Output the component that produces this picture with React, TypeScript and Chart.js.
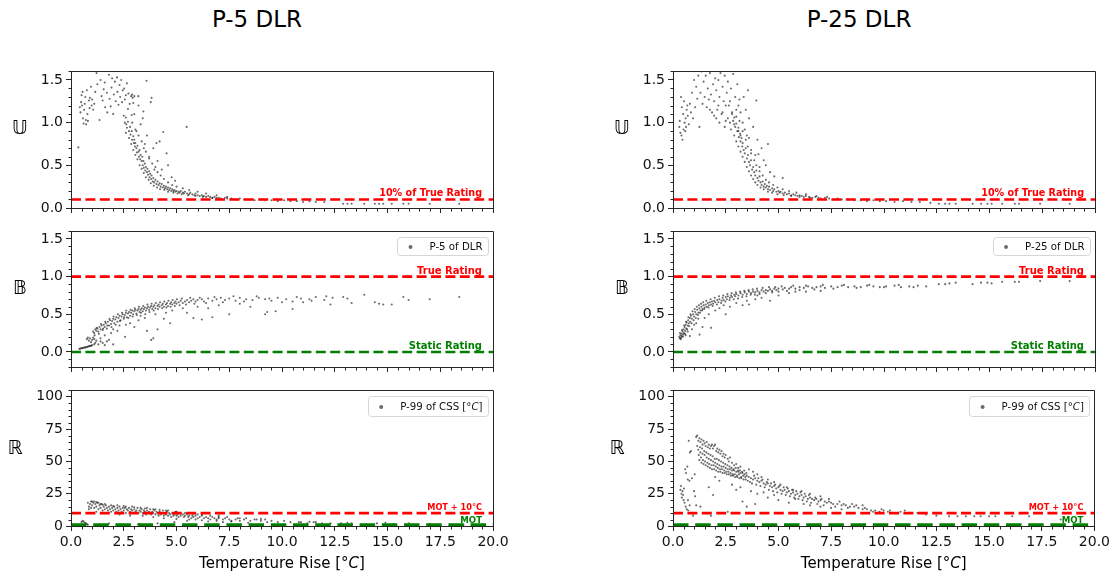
import React, { useEffect, useRef } from 'react';
import { Chart, registerables } from 'chart.js';

Chart.register(...registerables);

type Pt = [number, number];

const FONT = '"DejaVu Sans", Verdana, sans-serif';
const AXIS = '#262626';
const TICK = '#111111';
const POINT = 'rgba(0,0,0,0.58)';
const RED = '#ff0000';
const GREEN = '#008000';

const X_MIN = 0;
const X_MAX = 20;
const X_STEP = 2.5;
const X_MINOR = 0.5;
const X_TITLE = 'Temperature Rise [°C]';

const COL_TITLES = ['P-5 DLR', 'P-25 DLR'];
const ROW_LABELS = ['𝕌', '𝔹', 'ℝ'];
const LEGENDS = [['P-5 of DLR', 'P-99 of CSS [°C]'], ['P-25 of DLR', 'P-99 of CSS [°C]']];

const TEN_PCT = 0.1;
const TRUE_RATING = 1.0;
const STATIC_RATING = 0.0;
const MOT_PLUS_10 = 10;
const MOT = 0;

// ---------- P-5 DLR, U ----------
const p5U: Pt[] = [
  [0.35,0.71],[0.42,1.18],[0.45,1.12],[0.48,1.24],[0.5,1.32],[0.52,1.2],[0.55,1.36],[0.57,1.05],[0.6,0.99],[0.62,1.15],
  [0.65,1.22],[0.68,1.3],[0.7,1.03],[0.72,0.98],[0.75,1.38],[0.78,1.1],[0.8,1.02],[0.85,1.26],[0.88,1.17],[0.9,1.29],
  [0.95,1.42],[0.98,1.2],[1.0,1.27],[1.05,1.15],[1.1,1.22],[1.15,1.36],
  [1.21,1.58],[1.25,1.45],[1.35,1.03],[1.4,1.5],[1.45,1.31],[1.5,1.26],[1.55,1.39],[1.6,1.47],[1.62,1.18],[1.7,1.35],
  [1.72,1.12],[1.8,1.56],[1.83,1.28],[1.88,1.19],[1.92,1.41],[1.95,1.52],[2.0,1.1],[2.03,1.33],[2.08,1.48],[2.12,1.25],
  [2.18,1.53],[2.2,1.36],[2.25,1.21],[2.3,1.44],[2.33,1.3],[2.38,1.5],[2.42,1.24],[2.45,1.38],[2.52,1.4],[2.55,1.27],
  [2.6,1.32],[2.62,0.98],[2.65,1.46],[2.7,1.16],[2.72,1.34],[2.78,1.22],[2.85,1.31],[2.88,1.09],[2.92,1.29],[2.95,1.23],
  [3.0,1.31],[2.9,1.33],[3.19,1.31],[3.82,1.29],[3.78,1.24],[3.43,1.13],[3.58,1.49],[3.0,1.1],[3.4,1.05],[3.2,1.2],
  [2.5,1.08],[2.55,1.0],[2.6,1.06],[2.65,0.94],[2.7,1.01],[2.75,0.9],[2.8,0.95],[2.82,0.86],[2.88,0.9],[2.9,0.8],
  [2.95,0.84],[2.98,0.76],[3.0,0.8],[3.03,0.72],[3.05,0.76],[3.1,0.7],[3.12,0.65],[3.15,0.73],[3.2,0.66],[3.22,0.6],
  [3.25,0.68],[3.28,0.57],[3.3,0.62],[3.35,0.55],[3.38,0.6],[3.4,0.5],[3.43,0.55],[3.45,0.47],[3.5,0.52],[3.52,0.44],
  [3.55,0.48],[3.6,0.42],[3.62,0.46],[3.65,0.39],[3.7,0.43],[3.72,0.36],[3.75,0.4],[3.8,0.34],[3.82,0.38],[3.88,0.31],
  [3.9,0.35],[3.95,0.3],[4.0,0.33],[4.05,0.28],[4.1,0.31],[4.15,0.27],[4.2,0.29],[4.25,0.25],[4.3,0.28],[4.35,0.24],
  [4.4,0.26],[4.45,0.23],[4.5,0.25],[4.55,0.22],[4.6,0.24],[4.65,0.21],[4.7,0.23],[4.75,0.2],[4.8,0.22],[4.85,0.2],
  [4.9,0.21],[4.95,0.19],[5.0,0.2],[5.1,0.19],[5.15,0.18],[5.2,0.2],[5.3,0.18],[5.35,0.17],[5.4,0.19],[5.5,0.17],
  [5.6,0.16],[5.65,0.18],[5.75,0.16],[5.85,0.15],[5.9,0.17],[6.0,0.15],[6.1,0.14],[6.2,0.15],[6.3,0.14],[6.4,0.13],
  [6.5,0.14],[6.6,0.13],[6.7,0.12],[6.8,0.13],[6.9,0.12],[7.0,0.12],[7.1,0.11],[7.3,0.12],[7.4,0.11],[7.6,0.11],
  [7.8,0.1],[8.0,0.11],[8.2,0.1],[8.5,0.1],[8.7,0.09],[9.0,0.1],[9.2,0.09],[9.5,0.09],[9.8,0.08],[10.1,0.09],
  [10.4,0.08],[10.7,0.08],[11.0,0.07],[11.3,0.08],[11.6,0.07],[12.0,0.07],
  [12.9,0.05],[13.1,0.05],[13.3,0.05],[13.9,0.05],[14.4,0.05],[14.6,0.05],[14.8,0.05],[15.2,0.05],[15.75,0.05],[16.0,0.05],
  [17.0,0.05],[18.4,0.05],
  [5.48,0.95],[4.37,0.89],[4.2,0.78],[4.05,0.76],[4.53,0.64],[4.6,0.5],[4.77,0.36],[4.93,0.32],[3.3,0.98],[3.6,0.85],
  [3.9,0.7],[4.1,0.55],[4.3,0.45],[3.5,0.75],[3.7,0.6],[4.0,0.48],[3.1,0.9],
];
const p5U_spread: Pt[] = [
  [2.6,0.88],[2.75,0.82],[2.85,0.75],[2.95,0.68],[3.05,0.62],[3.15,0.57],[3.25,0.5],[3.35,0.46],[3.45,0.41],[3.55,0.36],
  [3.68,0.33],[3.78,0.29],[3.92,0.26],[4.08,0.24],[4.22,0.22],[4.42,0.21],[4.6,0.19],[4.85,0.18],[5.05,0.17],[5.25,0.16],
  [5.55,0.15],[5.9,0.14],[6.25,0.13],[6.7,0.115],
  [2.9,1.0],[3.05,0.92],[3.2,0.85],[3.35,0.78],[3.45,0.7],[3.55,0.66],[3.7,0.58],[3.85,0.52],[3.95,0.45],[4.1,0.42],
  [4.25,0.38],[4.4,0.34],[4.6,0.3],[4.8,0.27],[5.0,0.25],[5.3,0.23],[5.6,0.21],[6.0,0.19],[6.4,0.17],[6.9,0.15],[7.4,0.13],
];

// ---------- P-5 DLR, B ----------
const p5B: Pt[] = [
  [0.4,0.04],[0.45,0.045],[0.5,0.05],[0.55,0.05],[0.6,0.055],[0.65,0.06],[0.7,0.06],[0.75,0.065],[0.8,0.07],[0.85,0.075],
  [0.9,0.08],[0.95,0.08],[1.0,0.09],
  [0.75,0.17],[0.8,0.19],[0.85,0.15],[0.9,0.18],[0.95,0.13],[1.0,0.16],[1.05,0.19],[1.1,0.17],[1.15,0.12],[1.2,0.15],
  [1.3,0.1],[1.4,0.14],[1.5,0.12],[1.6,0.09],[1.8,0.16],[2.0,0.1],[1.1,0.1],
  [1.05,0.27],[1.1,0.25],[1.15,0.3],[1.2,0.28],[1.25,0.31],[1.3,0.27],[1.35,0.33],[1.4,0.3],[1.45,0.35],[1.5,0.29],
  [1.55,0.36],[1.6,0.33],[1.65,0.38],[1.7,0.31],[1.75,0.4],[1.8,0.35],[1.85,0.42],[1.9,0.37],[1.95,0.41],[2.0,0.44],
  [2.05,0.38],[2.1,0.43],[2.15,0.46],[2.2,0.4],[2.25,0.45],[2.3,0.48],[2.35,0.42],[2.4,0.47],[2.45,0.5],[2.5,0.44],
  [2.55,0.49],[2.6,0.52],[2.65,0.46],[2.7,0.51],[2.75,0.53],[2.8,0.48],[2.85,0.52],[2.9,0.55],[2.95,0.5],[3.0,0.54],
  [3.05,0.56],[3.1,0.51],[3.15,0.55],[3.2,0.57],[3.25,0.53],[3.3,0.56],[3.35,0.58],[3.4,0.54],[3.45,0.57],[3.5,0.59],
  [3.55,0.55],[3.6,0.58],[3.65,0.6],[3.7,0.56],[3.75,0.59],[3.8,0.61],[3.85,0.57],[3.9,0.6],[3.95,0.62],[4.0,0.58],
  [4.1,0.61],[4.15,0.63],[4.2,0.6],[4.3,0.62],[4.35,0.64],[4.4,0.6],[4.5,0.63],[4.55,0.65],[4.6,0.61],[4.7,0.64],
  [4.75,0.66],[4.8,0.63],[4.9,0.65],[4.95,0.67],[5.0,0.64],[5.1,0.66],[5.2,0.68],[5.3,0.65],[5.4,0.67],[5.5,0.69],
  [5.6,0.66],[5.7,0.68],[5.8,0.7],[5.9,0.67],[6.0,0.69],[6.2,0.7],[6.3,0.67],[6.5,0.71],[6.7,0.68],[6.9,0.7],
  [7.1,0.72],[7.3,0.69],[7.5,0.71],[7.8,0.68],[8.0,0.72],[8.3,0.7],[8.6,0.69],[8.9,0.72],[9.2,0.7],[9.5,0.68],
  [9.8,0.72],[10.2,0.7],[10.5,0.67],[10.9,0.71],[11.3,0.7],[11.6,0.73],[12.0,0.69],[12.4,0.72],
  [12.9,0.73],[13.1,0.71],[13.3,0.65],[13.9,0.76],[14.4,0.66],[14.6,0.64],[14.8,0.63],[15.2,0.63],[15.75,0.73],[16.0,0.69],
  [17.0,0.7],[18.4,0.73],
  [2.56,0.2],[3.9,0.18],[3.8,0.16],[3.6,0.28],[4.1,0.3],[4.7,0.38],[4.4,0.44],[5.8,0.45],[6.2,0.43],[6.7,0.46],
  [7.5,0.5],[9.2,0.5],[9.3,0.53],[9.7,0.54],[10.5,0.57],[2.0,0.3],[2.3,0.35],[2.8,0.38],[3.2,0.42],[3.5,0.45],
  [3.0,0.33],[4.0,0.5],[4.8,0.55],[5.3,0.58],[6.0,0.6],[7.0,0.62],[8.0,0.64],[1.6,0.22],[1.9,0.25],[1.4,0.18],
  [1.7,0.14],[2.2,0.28],[2.6,0.36],[5.5,0.52],[6.5,0.58],[8.5,0.6],[11.0,0.66],[12.3,0.63],[3.3,0.48],[4.5,0.52],
];
const p5B_spread: Pt[] = [
  [1.12,0.22],[1.22,0.32],[1.32,0.24],[1.42,0.37],[1.52,0.31],[1.62,0.4],[1.72,0.35],[1.82,0.44],[1.92,0.33],[2.02,0.47],
  [2.12,0.36],[2.22,0.5],[2.32,0.41],[2.42,0.52],[2.52,0.46],[2.62,0.55],[2.72,0.45],[2.82,0.56],[2.92,0.47],[3.02,0.58],
  [3.12,0.49],[3.22,0.6],[3.32,0.52],[3.42,0.61],[3.52,0.5],[3.62,0.63],[3.72,0.53],[3.82,0.64],[3.92,0.55],[4.02,0.65],
  [4.12,0.57],[4.22,0.66],[4.32,0.58],[4.42,0.67],[4.52,0.59],[4.62,0.68],[4.72,0.6],[4.82,0.69],[4.92,0.61],[5.02,0.7],
  [5.15,0.62],[5.25,0.71],[5.45,0.63],[5.65,0.72],[5.85,0.64],[6.1,0.72],[6.4,0.65],[6.8,0.73],[7.2,0.66],[7.7,0.74],
  [8.2,0.67],[8.8,0.74],[9.4,0.71],[10.0,0.66],[10.7,0.73],[11.4,0.68],[12.1,0.74],
];

// ---------- P-5 DLR, R ----------
const p5R: Pt[] = [
  [0.5,3],[0.55,4],[0.6,3.5],[0.65,2.5],[0.7,2],[0.75,1.5],[0.8,1],
  [0.8,18],[0.85,15],[0.9,17],[0.95,19],[1.0,16],[1.05,18],[1.1,14],[1.15,17],[1.2,15],[1.25,18],
  [1.3,13],[1.35,16],[1.4,14],[1.45,17],[1.5,12],[1.55,15],[1.6,13],[1.65,16],[1.7,14],[1.75,12],
  [1.8,15],[1.85,13],[1.9,11],[1.95,14],[2.0,12],[2.05,15],[2.1,13],[2.15,11],[2.2,14],[2.25,12],
  [2.3,15],[2.35,13],[2.4,11],[2.45,14],[2.5,12],[2.55,14],[2.6,10],[2.65,13],[2.7,12],[2.75,14],
  [2.8,11],[2.85,13],[2.9,12],[2.95,10],[3.0,13],[3.05,11],[3.1,12],[3.15,14],[3.2,10],[3.25,12],
  [3.3,11],[3.35,13],[3.4,10],[3.45,12],[3.5,11],[3.55,9],[3.6,12],[3.65,10],[3.7,11],[3.75,13],
  [3.8,9],[3.85,11],[3.9,10],[3.95,12],[4.0,9],[4.05,11],[4.1,10],[4.15,8],[4.2,11],[4.25,9],
  [4.3,10],[4.35,12],[4.4,8],[4.45,10],[4.5,9],[4.55,11],[4.6,8],[4.65,10],[4.7,9],[4.75,7],
  [4.8,10],[4.85,8],[4.9,9],[4.95,11],[5.0,8],[5.05,9],[5.1,7],[5.15,10],[5.2,8],[5.3,9],
  [5.35,7],[5.4,8],[5.5,9],[5.55,7],[5.6,8],[5.7,6],[5.75,8],[5.8,7],[5.9,8],[6.0,6],
  [6.1,7],[6.2,8],[6.3,6],[6.4,7],[6.5,6],[6.6,5],[6.7,7],[6.8,6],[6.9,5],[7.0,6],
  [7.2,5],[7.3,6],[7.5,5],[7.6,4],[7.8,5],[8.0,4],[8.2,5],[8.5,4],[8.7,5],[9.0,4],
  [9.3,3],[9.5,4],[9.8,3],[10.1,4],[10.4,3],[10.8,3],[11.2,2],[11.5,3],[11.9,2],[12.3,2],
  [12.8,2],[13.1,2.5],[13.3,2],[14.0,1.5],[14.5,2],[14.9,2.5],[15.3,1.5],[16.0,2],[17.0,1.5],[18.6,1],
  [10.9,3],[11.3,3.2],[11.6,3],
  [1.0,19],[1.2,18.5],[1.4,17],[1.5,16.5],[2.0,15.5],[2.5,15.5],[3.0,14.5],[3.5,13.5],[4.0,13],[4.5,12],
  [5.0,11],[5.5,10],[6.0,9],[7.0,8],[8.0,6],[9.0,5.5],
  [2.4,1],[3.2,1.5],[4.1,2],[4.9,3],[5.5,4],[5.9,5],[1.8,2],[6.5,3.5],[7.2,3],[8.4,2.5],
];
const p5R_spread: Pt[] = [
  [0.85,13],[0.95,14],[1.1,19],[1.3,18],[1.6,17],[1.9,16],[2.2,16],[2.6,15],[2.9,15],[3.3,14],
  [3.6,14],[3.9,13],[4.2,12.5],[4.6,12],[5.0,10.5],[5.4,10],[5.8,9.5],[6.2,9],[6.6,8],[7.0,7],
  [7.4,7],[7.9,6],[8.3,6],[8.8,5],[9.2,5],[1.2,11],[1.7,10],[2.3,9],[2.8,8],[3.4,8],
  [3.9,7],[4.4,6],[5.0,5.5],[5.6,5],[6.2,4.5],[6.9,4],[7.6,3.5],
];

// ---------- P-25 DLR, U ----------
const p25U: Pt[] = [
  [0.3,0.95],[0.32,1.02],[0.35,0.88],[0.38,1.3],[0.4,0.85],[0.42,1.18],[0.45,0.8],[0.48,1.1],[0.5,0.92],[0.52,1.25],
  [0.55,1.0],[0.58,0.9],[0.6,1.05],[0.62,0.95],[0.65,1.15],[0.68,1.2],[0.7,1.08],[0.75,0.98],[0.8,1.22],[0.85,1.12],
  [0.9,1.35],[0.95,1.05],[1.0,1.5],[1.05,1.18],
  [1.1,1.42],[1.15,1.28],[1.2,1.55],[1.25,0.95],[1.3,1.35],[1.35,1.6],[1.4,1.22],[1.45,1.48],[1.5,1.3],[1.55,1.55],
  [1.6,1.18],[1.65,1.4],[1.7,1.27],[1.75,1.58],[1.8,1.33],[1.85,1.12],[1.9,1.45],[1.95,1.25],[2.0,1.52],[2.05,1.38],
  [2.1,1.15],[2.15,1.5],[2.2,1.3],[2.25,1.58],[2.3,1.1],[2.35,1.42],[2.4,1.25],[2.45,1.55],[2.5,1.02],[2.55,1.35],
  [2.6,1.48],[2.65,1.2],[2.7,1.0],[2.75,1.4],[2.8,1.12],[2.85,1.57],[2.9,0.98],[2.95,1.3],[3.0,1.07],[3.05,1.45],
  [3.1,0.9],[3.15,1.27],[3.2,0.85],
  [2.8,1.1],[2.85,1.02],[2.9,1.06],[2.95,0.95],[3.0,0.99],[3.05,0.9],[3.1,0.94],[3.12,0.83],[3.18,0.87],[3.2,0.78],
  [3.25,0.82],[3.28,0.72],[3.3,0.76],[3.35,0.68],[3.4,0.64],[3.45,0.7],[3.5,0.58],[3.55,0.62],[3.6,0.54],[3.65,0.5],
  [3.7,0.56],[3.75,0.45],[3.8,0.48],[3.85,0.42],[3.9,0.38],[3.95,0.44],[4.0,0.35],[4.05,0.32],[4.1,0.37],[4.15,0.3],
  [4.2,0.27],[4.25,0.31],[4.3,0.25],[4.35,0.28],[4.4,0.24],[4.45,0.26],[4.5,0.22],[4.55,0.25],[4.6,0.21],[4.7,0.23],
  [4.75,0.2],[4.8,0.22],[4.9,0.19],[5.0,0.2],[5.05,0.18],[5.1,0.19],[5.2,0.17],[5.3,0.18],[5.4,0.16],[5.5,0.17],
  [5.6,0.15],[5.7,0.16],[5.8,0.15],[5.9,0.14],[6.0,0.15],[6.1,0.14],[6.2,0.13],[6.3,0.14],[6.45,0.13],[6.6,0.12],
  [6.75,0.13],[6.9,0.12],[7.0,0.11],[7.2,0.12],[7.4,0.11],[7.6,0.1],[7.8,0.11],[8.0,0.1],[8.3,0.1],[8.6,0.09],
  [8.9,0.09],[9.2,0.08],[9.5,0.09],[9.8,0.08],[10.1,0.08],[10.5,0.07],[10.9,0.08],[11.3,0.07],[11.7,0.07],[12.2,0.06],
  [12.6,0.05],[12.9,0.05],[13.1,0.05],[13.4,0.05],[14.2,0.05],[14.6,0.05],[14.9,0.05],[15.1,0.05],[15.6,0.05],[16.2,0.05],
  [16.4,0.05],[17.4,0.05],[18.8,0.05],
  [3.95,1.26],[4.5,0.75],[3.6,0.82],[3.7,0.68],[4.05,0.63],[4.3,0.56],[5.2,0.35],[4.8,0.37],[3.3,1.0],[3.4,0.92],
  [3.5,0.85],[3.45,1.15],[3.6,1.05],[3.8,0.95],[4.0,0.8],[4.2,0.7],[3.9,0.62],[4.4,0.5],[4.6,0.42],[4.1,0.48],
  [3.2,1.12],[3.1,1.2],[3.35,1.3],[3.55,1.38],
];
const p25U_spread: Pt[] = [
  [2.75,0.92],[2.9,0.85],[3.0,0.78],[3.1,0.72],[3.2,0.66],[3.3,0.6],[3.4,0.54],[3.5,0.48],[3.6,0.43],[3.7,0.38],
  [3.8,0.34],[3.9,0.3],[4.0,0.27],[4.15,0.24],[4.3,0.22],[4.5,0.19],[4.7,0.18],[4.95,0.16],[5.25,0.15],[5.6,0.14],
  [6.0,0.13],[6.5,0.12],
  [3.0,1.15],[3.15,1.02],[3.3,0.9],[3.45,0.8],[3.55,0.72],[3.7,0.64],[3.85,0.56],[3.95,0.5],[4.1,0.43],[4.25,0.38],
  [4.4,0.33],[4.55,0.3],[4.75,0.27],[4.95,0.24],[5.2,0.22],[5.5,0.2],[5.85,0.18],[6.3,0.16],[6.8,0.14],[7.3,0.13],
  [2.05,1.05],[2.2,1.0],[2.35,1.12],[2.5,1.2],[2.6,1.05],[2.7,1.25],[2.45,0.95],[2.15,1.2],[1.95,1.08],[1.75,1.15],
];

// ---------- P-25 DLR, B ----------
const p25B: Pt[] = [
  [0.3,0.2],[0.32,0.18],[0.35,0.22],[0.38,0.19],[0.4,0.24],[0.42,0.21],[0.45,0.27],[0.48,0.23],[0.5,0.3],[0.52,0.25],
  [0.55,0.33],[0.58,0.28],[0.6,0.36],[0.63,0.31],[0.65,0.39],[0.7,0.35],[0.72,0.42],[0.75,0.38],[0.8,0.45],[0.82,0.4],
  [0.85,0.48],[0.9,0.44],[0.95,0.5],[1.0,0.47],[1.05,0.53],[1.1,0.5],[1.15,0.56],[1.2,0.52],[1.25,0.58],[1.3,0.55],
  [1.35,0.6],[1.4,0.57],[1.45,0.62],[1.5,0.59],[1.55,0.63],[1.6,0.6],[1.65,0.65],[1.7,0.62],[1.75,0.66],[1.8,0.63],
  [1.85,0.67],[1.9,0.64],[1.95,0.68],[2.0,0.66],[2.1,0.69],[2.15,0.66],[2.2,0.7],[2.3,0.68],[2.35,0.72],[2.4,0.69],
  [2.5,0.73],[2.55,0.7],[2.6,0.74],[2.7,0.72],[2.75,0.75],[2.8,0.73],[2.9,0.76],[2.95,0.74],[3.0,0.77],[3.1,0.75],
  [3.2,0.78],[3.3,0.76],[3.4,0.79],[3.5,0.77],[3.6,0.8],[3.7,0.78],[3.8,0.8],[3.9,0.79],[4.0,0.81],[4.1,0.79],
  [4.2,0.82],[4.3,0.8],[4.4,0.82],[4.5,0.81],[4.6,0.83],[4.7,0.81],[4.8,0.84],[4.9,0.82],[5.0,0.84],[5.2,0.83],
  [5.3,0.85],[5.5,0.84],[5.6,0.86],[5.8,0.84],[6.0,0.86],[6.2,0.85],[6.4,0.87],[6.6,0.85],[6.8,0.86],[7.0,0.87],
  [7.2,0.85],[7.5,0.87],[7.8,0.86],[8.0,0.88],[8.3,0.86],[8.6,0.87],[8.9,0.86],[9.2,0.88],[9.5,0.87],[9.8,0.86],
  [10.1,0.87],[10.5,0.88],[10.8,0.86],[11.2,0.87],[11.6,0.88],[12.0,0.87],
  [12.6,0.9],[12.9,0.9],[13.1,0.91],[13.4,0.92],[14.2,0.9],[14.6,0.92],[14.9,0.92],[15.1,0.91],[15.6,0.93],[16.2,0.93],
  [16.4,0.93],[17.4,0.94],[18.8,0.94],
  [0.8,0.21],[1.26,0.23],[1.4,0.33],[1.8,0.32],[2.5,0.5],[3.3,0.62],[3.6,0.63],[4.6,0.68],[0.6,0.22],[0.9,0.3],
  [1.1,0.38],[1.5,0.45],[1.7,0.5],[2.0,0.55],[2.2,0.58],[2.7,0.6],[3.0,0.65],[3.9,0.7],[4.2,0.72],[5.0,0.75],
  [5.5,0.78],[6.3,0.8],[7.0,0.81],[1.2,0.44],[2.4,0.62],[3.5,0.68],[4.0,0.75],[5.8,0.8],[1.0,0.36],[0.7,0.27],
];
const p25B_spread: Pt[] = [
  [0.33,0.25],[0.37,0.17],[0.43,0.29],[0.47,0.2],[0.53,0.35],[0.57,0.24],[0.62,0.4],[0.67,0.3],[0.73,0.46],[0.77,0.34],
  [0.83,0.5],[0.88,0.38],[0.93,0.54],[0.98,0.42],[1.03,0.57],[1.08,0.45],[1.13,0.6],[1.18,0.49],[1.23,0.62],[1.28,0.52],
  [1.33,0.64],[1.38,0.55],[1.43,0.66],[1.48,0.57],[1.58,0.68],[1.68,0.59],[1.78,0.7],[1.88,0.61],[1.98,0.72],[2.08,0.63],
  [2.18,0.74],[2.28,0.65],[2.38,0.75],[2.48,0.67],[2.58,0.77],[2.68,0.69],[2.78,0.78],[2.88,0.7],[2.98,0.79],[3.08,0.71],
  [3.18,0.8],[3.28,0.73],[3.38,0.81],[3.48,0.74],[3.58,0.82],[3.68,0.76],[3.78,0.83],[3.88,0.76],[3.98,0.84],[4.1,0.77],
  [4.25,0.85],[4.4,0.78],[4.55,0.86],[4.7,0.79],[4.85,0.86],[5.0,0.8],[5.15,0.87],[5.4,0.81],[5.7,0.88],[6.0,0.82],
  [6.3,0.88],[6.7,0.83],[7.1,0.89],[7.6,0.84],[8.1,0.89],[8.7,0.85],[9.3,0.89],[10.0,0.86],[10.7,0.89],[11.4,0.86],
];

// ---------- P-25 DLR, R ----------
const p25R: Pt[] = [
  [0.35,28],[0.38,31],[0.4,25],[0.42,22],[0.45,27],[0.48,24],[0.5,20],[0.52,29],[0.55,18],[0.58,44],
  [0.6,15],[0.62,41],[0.65,13],[0.68,46],[0.7,36],[0.72,12],[0.75,66],[0.78,35],[0.8,57],[0.82,10],
  [0.85,58],[0.9,37],[0.95,8],[1.0,27],[1.05,23],[1.1,16],[1.03,40],[0.71,20],[0.79,16],
  [1.1,69],[1.15,70],[1.2,66],[1.25,68],[1.3,65],[1.35,67],[1.4,63],[1.45,66],[1.5,64],[1.55,62],
  [1.6,65],[1.65,61],[1.7,63],[1.75,60],[1.8,62],[1.85,63],[1.9,60],[1.95,62],[2.0,63],[2.05,58],
  [2.1,60],[2.15,57],[2.2,59],[2.25,56],[2.3,58],[2.35,54],[2.4,56],[2.45,53],[2.5,55],[2.6,52],
  [2.65,50],[2.7,53],[2.8,49],[2.9,47],[3.0,48],[3.1,45],[3.2,46],
  [1.2,59],[1.3,57],[1.4,56],[1.5,55],[1.6,53],[1.7,52],[1.8,51],[1.9,50],[2.0,49],[2.1,48],
  [2.2,47],[2.3,46],[2.4,46],[2.5,45],[2.6,44],[2.7,44],[2.8,43],[2.9,43],[3.0,42],[3.1,42],
  [3.2,41],[3.3,41],[3.4,40],
  [1.25,51],[1.35,49],[1.45,48],[1.55,47],[1.65,46],[1.75,45],[1.85,44],[1.95,44],[2.05,43],[2.15,42],
  [2.25,42],[2.35,41],[2.45,41],[2.55,40],[2.65,40],[2.75,39],[2.85,39],[2.95,38],[3.05,38],[3.15,37],
  [3.25,37],[3.35,36],[3.45,36],
  [3.5,39],[3.6,38],[3.7,37],[3.8,36],[3.9,37],[4.0,35],[4.1,34],[4.2,35],[4.3,33],[4.4,32],
  [4.5,33],[4.6,31],[4.7,30],[4.8,31],[4.9,29],[5.0,30],[5.1,28],[5.2,27],[5.3,28],[5.4,26],
  [5.5,27],[5.6,25],[5.7,26],[5.8,24],[5.9,25],[6.0,23],[6.1,24],[6.2,22],[6.3,23],[6.4,21],
  [6.5,22],[6.6,21],[6.7,20],[6.8,21],[6.9,19],[7.0,20],[7.2,19],[7.3,18],[7.5,18],[7.6,17],
  [7.8,17],[8.0,16],[8.2,16],[8.4,15],[8.6,15],[8.8,14],[9.0,13],[9.2,13],[9.4,12],[9.6,12],
  [9.8,11],[10.0,12],[10.2,11],[10.5,10],[10.8,11],[11.2,10],[11.6,10],
  [3.6,44],[3.8,42],[4.0,40],[4.2,38],[4.5,36],[4.8,34],[5.1,32],[5.4,30],[5.7,28],[6.1,27],
  [6.5,25],[7.0,23],[7.4,21],[7.9,19],[8.5,17],[9.0,16],
  [3.5,15],[3.9,17],[3.3,19],[2.6,11],[4.5,22],[5.0,20],[5.5,18],[6.2,17],[7.0,15],[4.0,25],
  [4.8,24],[5.8,21],[6.5,16],[7.5,14],[8.0,13],[3.0,28],[2.8,32],[3.2,30],[3.7,27],[4.3,26],
  [2.2,35],[2.0,38],[1.7,30],[1.9,24],[1.3,15],[1.8,8],
  [12.0,9],[12.5,8],[13.1,7.5],[13.5,7.5],[13.9,7.5],[14.3,7.5],[14.6,7.5],[15.0,7.5],[15.3,7.5],[16.1,7.5],
  [16.9,7.5],[18.4,5],
];
const p25R_spread: Pt[] = [
  [1.15,62],[1.22,55],[1.28,61],[1.33,53],[1.38,60],[1.42,51],[1.48,58],[1.52,50],[1.58,57],[1.63,49],
  [1.68,56],[1.72,48],[1.78,55],[1.83,47],[1.88,54],[1.93,47],[1.98,52],[2.03,46],[2.08,52],[2.13,45],
  [2.18,51],[2.23,44],[2.28,50],[2.33,44],[2.38,49],[2.43,43],[2.48,48],[2.53,42],[2.58,47],[2.63,42],
  [2.68,46],[2.73,41],[2.78,45],[2.83,40],[2.88,44],[2.93,40],[2.98,45],[3.03,39],[3.08,43],[3.13,40],
  [3.18,43],[3.23,38],[3.28,42],[3.33,39],[3.38,43],[3.43,38],[3.48,41],[3.55,35],[3.65,34],[3.75,33],
  [3.85,39],[3.95,32],[4.05,37],[4.15,31],[4.25,36],[4.35,30],[4.45,34],[4.55,28],[4.65,33],[4.75,27],
  [4.85,32],[4.95,26],[5.05,31],[5.15,25],[5.25,30],[5.35,24],[5.45,29],[5.55,23],[5.65,28],[5.75,22],
  [5.85,27],[5.95,21],[6.05,26],[6.15,20],[6.25,25],[6.35,19],[6.45,24],[6.55,18],[6.75,22],[6.85,17],
  [7.05,21],[7.15,16],[7.4,19],[7.7,15],[8.1,17],[8.3,14],[8.7,16],[9.1,14],[9.5,11],[9.9,13],
  [10.3,12],[10.7,10],[11.0,12],
];

const COLUMN_DATA: Pt[][][] = [
  [[...p5U, ...p5U_spread], [...p5B, ...p5B_spread], [...p5R, ...p5R_spread]],
  [[...p25U, ...p25U_spread], [...p25B, ...p25B_spread], [...p25R, ...p25R_spread]],
];

// ---------- layout ----------
interface LineSpec { y: number; color: string; width: number; dash: number[]; label: string; size: number; }
interface RowSpec {
  top: number; height: number; padTop: number; xHeight: number; showX: boolean;
  yMin: number; yMax: number; yStep: number; yMinor: number; yDec: number;
  labelDx: number; labelDy: number; legendH: number;
  lines: LineSpec[];
}

const ROWS: RowSpec[] = [
  {
    top: 60, height: 160, padTop: 10, xHeight: 12, showX: false,
    yMin: 0, yMax: 1.6, yStep: 0.5, yMinor: 0.1, yDec: 1, labelDx: -51, labelDy: -11, legendH: 0,
    lines: [{ y: TEN_PCT, color: RED, width: 2.6, dash: [10, 4.4], label: '10% of True Rating', size: 9.6 }],
  },
  {
    top: 220, height: 160, padTop: 10, xHeight: 13, showX: false,
    yMin: -0.2, yMax: 1.6, yStep: 0.5, yMinor: 0.1, yDec: 1, labelDx: -51, labelDy: -10.5, legendH: 18,
    lines: [
      { y: TRUE_RATING, color: RED, width: 2.6, dash: [10, 4.4], label: 'True Rating', size: 10 },
      { y: STATIC_RATING, color: GREEN, width: 2.6, dash: [10, 4.4], label: 'Static Rating', size: 10 },
    ],
  },
  {
    top: 379, height: 193, padTop: 10, xHeight: 46, showX: true,
    yMin: 0, yMax: 105, yStep: 25, yMinor: 5, yDec: 0, labelDx: -56, labelDy: -9.5, legendH: 20,
    lines: [
      { y: MOT_PLUS_10, color: RED, width: 2.6, dash: [10, 4.4], label: 'MOT + 10°C', size: 8.2 },
      { y: MOT, color: GREEN, width: 5.4, dash: [15.5, 6.7], label: 'MOT', size: 8.6 },
    ],
  },
];

const COLS = [
  { left: 0, width: 513, padRight: 20, yWidth: 71, titleX: 257 },
  { left: 602, width: 511, padRight: 18, yWidth: 71, titleX: 859 },
];

type Part = { t: string; it?: boolean };

function splitC(text: string): Part[] {
  const i = text.indexOf('°C');
  if (i < 0) return [{ t: text }];
  return [{ t: text.slice(0, i + 1) }, { t: 'C', it: true }, { t: text.slice(i + 2) }];
}

function richWidth(ctx: CanvasRenderingContext2D, parts: Part[], size: number, weight: string) {
  let w = 0;
  for (const p of parts) {
    ctx.font = `${p.it ? 'italic ' : ''}${weight} ${size}px ${FONT}`;
    w += ctx.measureText(p.t).width;
  }
  return w;
}

function drawRich(ctx: CanvasRenderingContext2D, parts: Part[], x: number, y: number, size: number, weight: string) {
  let cx = x;
  ctx.textAlign = 'left';
  for (const p of parts) {
    ctx.font = `${p.it ? 'italic ' : ''}${weight} ${size}px ${FONT}`;
    ctx.fillText(p.t, cx, y);
    cx += ctx.measureText(p.t).width;
  }
}

function Panel({ col, row }: { col: number; row: number }) {
  const ref = useRef<HTMLCanvasElement>(null);
  const c = COLS[col];
  const r = ROWS[row];

  useEffect(() => {
    const canvas = ref.current;
    if (!canvas) return;
    const points = COLUMN_DATA[col][row];
    const legendText = row === 0 ? null : LEGENDS[col][row - 1];

    const overlay = {
      id: 'overlay',
      afterDraw(chart: any) {
        const ctx: CanvasRenderingContext2D = chart.ctx;
        const a = chart.chartArea;
        const xs = chart.scales.x;
        const ys = chart.scales.y;
        ctx.save();
        const L = Math.round(a.left) + 0.5;
        const T = Math.round(a.top) + 0.5;
        const R = Math.round(a.right) + 0.5;
        const B = Math.round(a.bottom) + 0.5;
        ctx.strokeStyle = AXIS;
        ctx.lineWidth = 1;
        ctx.beginPath();
        ctx.moveTo(L, T); ctx.lineTo(R, T); ctx.lineTo(R, B); ctx.lineTo(L, B); ctx.closePath();
        ctx.stroke();
        ctx.beginPath();
        const nx = Math.round((X_MAX - X_MIN) / X_MINOR);
        for (let i = 0; i <= nx; i++) {
          const v = X_MIN + i * X_MINOR;
          const q = v / X_STEP;
          if (Math.abs(q - Math.round(q)) < 1e-6) continue;
          const px = Math.round(xs.getPixelForValue(v)) + 0.5;
          ctx.moveTo(px, B); ctx.lineTo(px, B + 3);
        }
        const ny = Math.round((r.yMax - r.yMin) / r.yMinor);
        for (let i = 0; i <= ny; i++) {
          const v = r.yMin + i * r.yMinor;
          const q = v / r.yStep;
          if (Math.abs(q - Math.round(q)) < 1e-6) continue;
          const py = Math.round(ys.getPixelForValue(v)) + 0.5;
          ctx.moveTo(L, py); ctx.lineTo(L - 3, py);
        }
        ctx.stroke();
        ctx.fillStyle = '#000';
        ctx.font = `19px ${FONT}`;
        ctx.textAlign = 'center';
        ctx.textBaseline = 'middle';
        ctx.fillText(ROW_LABELS[row], a.left + r.labelDx, (a.top + a.bottom) / 2 + r.labelDy);
        ctx.textBaseline = 'alphabetic';
        ctx.textAlign = 'right';
        for (const l of r.lines) {
          ctx.fillStyle = l.color;
          ctx.font = `bold ${l.size}px ${FONT}`;
          ctx.fillText(l.label, a.right - 11, ys.getPixelForValue(l.y) - 3);
        }
        if (legendText) {
          const parts = splitC(legendText);
          const size = 10.2;
          const tw = richWidth(ctx, parts, size, 'normal');
          const boxR = a.right - 5;
          const textStart = boxR - 5.5 - tw;
          const dotX = textStart - 19;
          const boxL = dotX - 13.5;
          const boxT = a.top + 6;
          const h = r.legendH;
          ctx.beginPath();
          ctx.roundRect(Math.round(boxL) + 0.5, Math.round(boxT) + 0.5, Math.round(boxR - boxL), h, 3);
          ctx.fillStyle = 'rgba(255,255,255,0.8)';
          ctx.fill();
          ctx.strokeStyle = '#d6d6d6';
          ctx.lineWidth = 1;
          ctx.stroke();
          ctx.beginPath();
          ctx.arc(dotX, boxT + h / 2 + 0.5, 2, 0, Math.PI * 2);
          ctx.fillStyle = POINT;
          ctx.fill();
          ctx.fillStyle = '#111';
          ctx.textBaseline = 'middle';
          drawRich(ctx, parts, textStart, boxT + h / 2 + 1, size, 'normal');
        }
        if (r.showX) {
          const parts = splitC(X_TITLE);
          const tw = richWidth(ctx, parts, 15, 'normal');
          ctx.fillStyle = '#000';
          ctx.textBaseline = 'alphabetic';
          drawRich(ctx, parts, (a.left + a.right) / 2 - tw / 2, 568 - r.top, 15, 'normal');
        }
        ctx.restore();
      },
    };

    const lineSets = r.lines.map((l) => ({
      type: 'line' as const,
      data: [{ x: X_MIN, y: l.y }, { x: X_MAX, y: l.y }],
      borderColor: l.color,
      borderWidth: l.width,
      borderDash: l.dash,
      borderCapStyle: 'butt' as const,
      pointRadius: 0,
      fill: false,
      order: 0,
      clip: 0,
    }));

    const chart = new Chart(canvas, {
      type: 'scatter',
      data: {
        datasets: [
          ...lineSets,
          {
            type: 'scatter' as const,
            data: points.map(([x, y]) => ({ x, y })),
            backgroundColor: POINT,
            pointRadius: 1.05,
            pointBorderWidth: 0,
            pointHoverRadius: 1.05,
            order: 1,
            clip: 0,
          },
        ] as any,
      },
      options: {
        animation: false,
        responsive: false,
        devicePixelRatio: 1,
        events: [],
        layout: { padding: { top: r.padTop, right: c.padRight, left: 0, bottom: 0 } },
        plugins: { legend: { display: false }, tooltip: { enabled: false } },
        scales: {
          x: {
            type: 'linear',
            min: X_MIN,
            max: X_MAX,
            afterFit: (s: any) => { s.height = r.xHeight; },
            grid: { display: true, drawOnChartArea: false, drawTicks: true, tickLength: 5, color: AXIS, lineWidth: 1 },
            border: { display: true, color: AXIS, width: 1 },
            ticks: {
              display: r.showX,
              stepSize: X_STEP,
              autoSkip: false,
              maxRotation: 0,
              includeBounds: false,
              padding: 3,
              color: TICK,
              font: { family: FONT, size: 14 },
              callback: (v: any) => Number(v).toFixed(1),
            },
          },
          y: {
            type: 'linear',
            min: r.yMin,
            max: r.yMax,
            afterFit: (s: any) => { s.width = c.yWidth; },
            grid: { display: true, drawOnChartArea: false, drawTicks: true, tickLength: 5, color: AXIS, lineWidth: 1 },
            border: { display: true, color: AXIS, width: 1 },
            ticks: {
              stepSize: r.yStep,
              autoSkip: false,
              includeBounds: false,
              padding: 3,
              color: TICK,
              font: { family: FONT, size: 14 },
              callback: (v: any) => Number(v).toFixed(r.yDec),
            },
          },
        },
      } as any,
      plugins: [overlay],
    });
    return () => chart.destroy();
  }, [col, row]);

  return (
    <canvas
      ref={ref}
      width={c.width}
      height={r.height}
      style={{ position: 'absolute', left: c.left, top: r.top, width: c.width, height: r.height }}
    />
  );
}

export default function App() {
  return (
    <div style={{ position: 'fixed', left: 0, top: 0, width: 1113, height: 572, background: '#fff', overflow: 'hidden' }}>
      {COL_TITLES.map((t, i) => (
        <div
          key={t}
          style={{
            position: 'absolute', left: COLS[i].titleX - 150, top: 8, width: 300, textAlign: 'center',
            fontFamily: FONT, fontSize: 23, lineHeight: '23px', color: '#000', whiteSpace: 'nowrap',
          }}
        >
          {t}
        </div>
      ))}
      {[0, 1].map((col) => [0, 1, 2].map((row) => <Panel key={`${col}-${row}`} col={col} row={row} />))}
    </div>
  );
}
